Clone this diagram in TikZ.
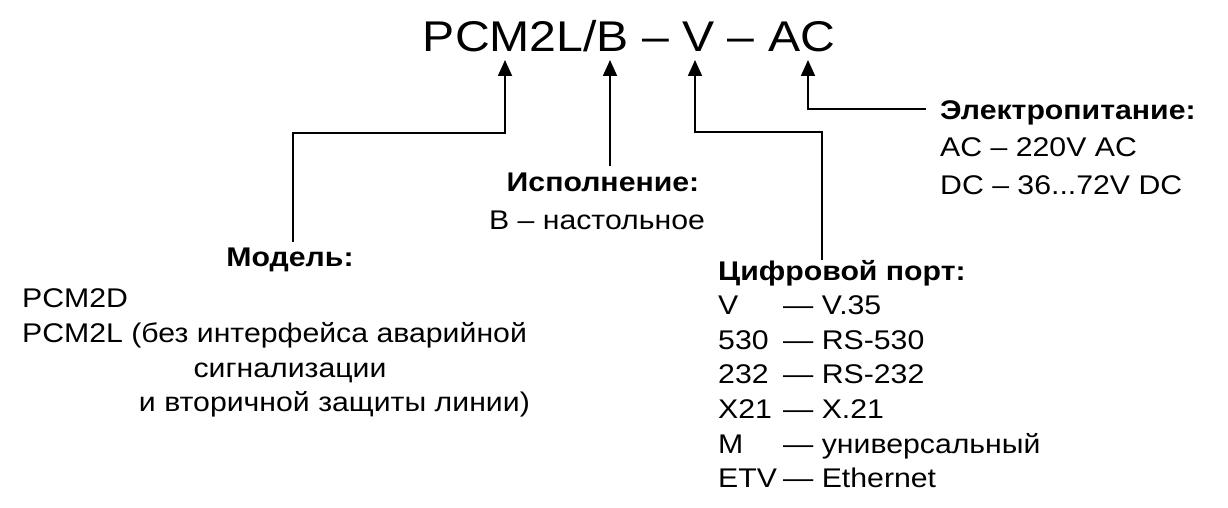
\documentclass[tikz,border=0pt]{standalone}
\usepackage{fontspec}
\setmainfont{Liberation Sans}[FakeStretch=1.12]
\usetikzlibrary{arrows.meta}
\begin{document}
\begin{tikzpicture}[x=1pt, y=-1pt,
    txt/.style={inner sep=0pt, anchor=base west, font=\fontsize{27}{34}\selectfont},
    hdr/.style={txt, font=\fontsize{27}{34}\selectfont\bfseries},
    arr/.style={line width=1.8pt, -{Triangle[length=16pt, width=14pt]}}]
    \useasboundingbox (0,0) rectangle (1228,508);
    % code
    \node[inner sep=0pt, anchor=base, font=\fontsize{43}{50}\selectfont] (code) at (629,52) {PCM2L/B – V – AC};
    \coordinate (tmodel) at (505,60);
    \coordinate (texec) at (610,60);
    \coordinate (tport) at (695,60);
    \coordinate (tpower) at (808,60);
    \coordinate (kmodel) at (293,133);
    \coordinate (kport) at (822,132);
    \coordinate (kpower) at (926,109);
    % power
    \node[hdr] (power) at (940,120) {Электропитание:};
    \node[txt] (ac) at (940,157) {AC – 220V AC};
    \node[txt] (dc) at (940,194) {DC – 36...72V DC};
    % execution
    \node[hdr, anchor=base] (exec) at (603,191) {Исполнение:};
    \node[txt, anchor=base] (desk) at (597,229) {B – настольное};
    % model
    \node[hdr, anchor=base] (model) at (290,266) {Модель:};
    \node[txt] (m1) at (22,307) {PCM2D};
    \node[txt] (m2) at (22,342) {PCM2L (без интерфейса аварийной};
    \node[txt, anchor=base] (m3) at (290,377) {сигнализации};
    \node[txt, anchor=base east] (m4) at (530,411) {и вторичной защиты линии)};
    % port
    \node[hdr] (port) at (718,280) {Цифровой порт:};
    \foreach \k/\v [count=\i] in {V/V.35, 530/RS-530, 232/RS-232, X21/X.21, M/универсальный, ETV/Ethernet} {
        \node[txt] (pk\i) at (718,280+34.6*\i) {\k};
        \node[txt] (pv\i) at (783,280+34.6*\i) {— \v};
    }
    % arrows
    \draw[arr] ([yshift=5pt]kmodel |- model.north) -- (kmodel) -| (tmodel);
    \draw[arr] ([yshift=6pt]texec |- exec.north) -- (texec);
    \draw[arr] (kport |- port.north) -- (kport) -| (tport);
    \draw[arr] (kpower) -| (tpower);
\end{tikzpicture}
\end{document}
